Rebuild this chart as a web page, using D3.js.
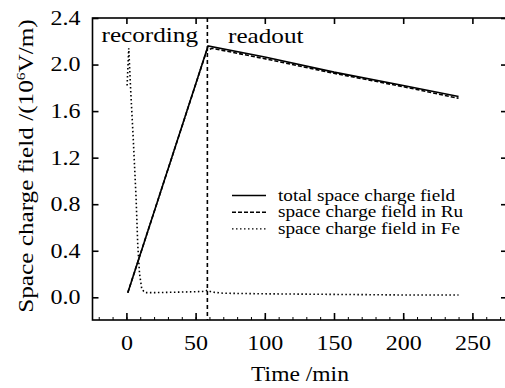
<!DOCTYPE html>
<html>
<head>
<meta charset="utf-8">
<script src="https://cdn.jsdelivr.net/npm/d3@7"></script>
<style>
  body { margin: 0; background: #fff; }
  text { font-family: "Liberation Serif", "Times New Roman", serif; fill: #000; }
</style>
</head>
<body>
<div id="wrapper"></div>
<script>
// Data
const totalTime = [1, 59, 100, 150, 200, 240]
const totalField = [0.04, 2.16, 2.065, 1.935, 1.82, 1.725]

const ruTime = [1, 58, 62, 100, 150, 200, 240]
const ruField = [0.04, 2.12, 2.14, 2.05, 1.925, 1.81, 1.71]

const feTime = [0.5, 1.7, 3, 5, 7, 8.2, 9.5, 11, 12.5, 14, 20, 40, 55, 58.5, 62, 70, 100, 150, 200, 240]
const feField = [1.82, 2.14, 1.8, 1.35, 0.85, 0.45, 0.2, 0.08, 0.05, 0.04, 0.04, 0.045, 0.05, 0.06, 0.045, 0.035, 0.03, 0.025, 0.02, 0.02]

const switchTime = 58.5
const xTicks = [0, 50, 100, 150, 200, 250]
const yTicks = [0, 0.4, 0.8, 1.2, 1.6, 2.0, 2.4]
const legendLabels = ["total space charge field", "space charge field in Ru", "space charge field in Fe"]

const dimensions = { width: 505, height: 388, left: 92.5, top: 18, right: 507, bottom: 320 }

const svg = d3.select("#wrapper")
  .append("svg")
  .attr("width", dimensions.width)
  .attr("height", dimensions.height)

const xScale = d3.scaleLinear()
  .domain([-24.5, 275])
  .range([dimensions.left, dimensions.right])

const yScale = d3.scaleLinear()
  .domain([-0.195, 2.4])
  .range([dimensions.bottom, dimensions.top])

// stretch text horizontally like the original font
function stretch(sel, k) {
  sel.each(function () {
    const w = this.getComputedTextLength()
    d3.select(this).attr("textLength", w * k).attr("lengthAdjust", "spacingAndGlyphs")
  })
}

const plot = svg.append("g")

// Series
const line = d3.line()
  .x(d => xScale(d[0]))
  .y(d => yScale(d[1]))

const zip = (a, b) => a.map((t, i) => [t, b[i]])

plot.append("line")
  .attr("x1", xScale(switchTime)).attr("x2", xScale(switchTime))
  .attr("y1", dimensions.top).attr("y2", dimensions.bottom)
  .attr("stroke", "#000").attr("stroke-width", 1.6)
  .attr("stroke-dasharray", "4,3")

plot.append("path")
  .attr("d", line(zip(feTime, feField)))
  .attr("fill", "none").attr("stroke", "#000").attr("stroke-width", 1.6)
  .attr("stroke-dasharray", "1.5,2.5")

plot.append("path")
  .attr("d", line(zip(ruTime, ruField)))
  .attr("fill", "none").attr("stroke", "#000").attr("stroke-width", 1.6)
  .attr("stroke-dasharray", "4,2")

plot.append("path")
  .attr("d", line(zip(totalTime, totalField)))
  .attr("fill", "none").attr("stroke", "#000").attr("stroke-width", 1.6)

// Axes
const xAxis = svg.append("g")
  .attr("transform", `translate(0,${dimensions.bottom})`)
  .call(d3.axisBottom(xScale).tickValues(xTicks).tickSizeInner(-7).tickSizeOuter(0).tickPadding(16))
xAxis.select(".domain").remove()
xAxis.selectAll("text").style("font-size", "20px").attr("font-family", null)
xAxis.selectAll(".tick line").attr("stroke-width", 1.6)

const xMinor = svg.append("g")
  .attr("transform", `translate(0,${dimensions.bottom})`)
  .call(d3.axisBottom(xScale).tickValues(d3.range(-20, 271, 10)).tickSizeInner(-3).tickSizeOuter(0).tickFormat(""))
xMinor.select(".domain").remove()

const xTop = svg.append("g")
  .attr("transform", `translate(0,${dimensions.top})`)
  .call(d3.axisTop(xScale).tickValues(xTicks).tickSizeInner(-6).tickSizeOuter(0).tickFormat(""))
xTop.select(".domain").remove()
xTop.selectAll(".tick line").attr("stroke-width", 1.6)

const yAxis = svg.append("g")
  .attr("transform", `translate(${dimensions.left},0)`)
  .call(d3.axisLeft(yScale).tickValues(yTicks).tickFormat(d3.format(".1f")).tickSizeInner(-6).tickSizeOuter(0).tickPadding(12))
yAxis.select(".domain").remove()
yAxis.selectAll("text").style("font-size", "20px").attr("font-family", null)
yAxis.selectAll(".tick line").attr("stroke-width", 1.6)

const yRight = svg.append("g")
  .attr("transform", `translate(${dimensions.right},0)`)
  .call(d3.axisRight(yScale).tickValues(yTicks).tickSizeInner(-6).tickSizeOuter(0).tickFormat(""))
yRight.select(".domain").remove()
yRight.selectAll(".tick line").attr("stroke-width", 1.6)

svg.append("rect")
  .attr("x", dimensions.left).attr("y", dimensions.top)
  .attr("width", dimensions.right - dimensions.left)
  .attr("height", dimensions.bottom - dimensions.top)
  .attr("fill", "none").attr("stroke", "#000").attr("stroke-width", 1.6)

stretch(xAxis.selectAll("text"), 1.2)
stretch(yAxis.selectAll("text"), 1.2)

// Labels
const xLabel = svg.append("text")
  .attr("x", 300).attr("y", 381)
  .attr("text-anchor", "middle")
  .style("font-size", "21px")
  .text("Time /min")

const yLabel = svg.append("text")
  .attr("transform", "translate(33,166) rotate(-90)")
  .attr("text-anchor", "middle")
  .style("font-size", "21px")
yLabel.append("tspan").text("Space charge field /(10")
yLabel.append("tspan").attr("dy", -8).style("font-size", "13px").text("6")
yLabel.append("tspan").attr("dy", 8).text("V/m)")

const recLabel = svg.append("text")
  .attr("x", 101.5).attr("y", 42)
  .style("font-size", "21px")
  .text("recording")

const readLabel = svg.append("text")
  .attr("x", 228).attr("y", 43)
  .style("font-size", "21px")
  .text("readout")

stretch(xLabel, 1.12)
stretch(yLabel, 1.2)
stretch(recLabel, 1.2)
stretch(readLabel, 1.2)

// Legend
const dashes = [null, "4,2", "1.5,2.5"]
const legend = svg.append("g")
legendLabels.forEach((label, i) => {
  const y = 195.5 + i * 16.7
  legend.append("line")
    .attr("x1", 232).attr("x2", 266)
    .attr("y1", y).attr("y2", y)
    .attr("stroke", "#000").attr("stroke-width", 1.4)
    .attr("stroke-dasharray", dashes[i])
  const t = legend.append("text")
    .attr("x", 278).attr("y", y + 5)
    .style("font-size", "16px")
    .text(label)
  stretch(t, 1.2)
})
</script>
</body>
</html>
